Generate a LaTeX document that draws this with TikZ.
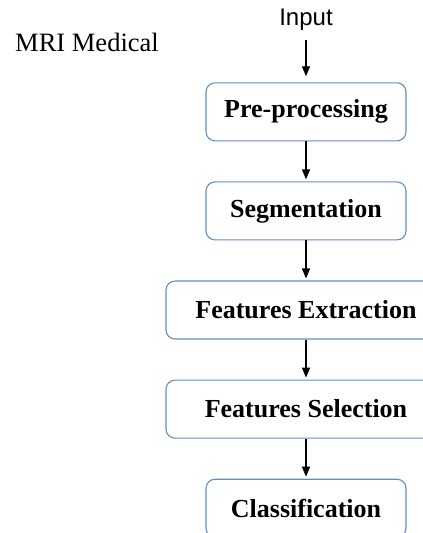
\documentclass[tikz,border=0pt]{standalone}
\usepackage{fontspec}
\setmainfont{Liberation Serif}
\newfontfamily\inputfont{Liberation Sans}
\usetikzlibrary{arrows.meta,positioning}
\definecolor{boxblue}{RGB}{100,140,190}
\newcommand{\FlowTip}{Triangle[length=10,width=8]}
\tikzset{stage/.style={draw=boxblue,line width=1.1pt,rounded corners=9pt,minimum width=200pt,minimum height=58pt,font=\fontsize{26}{30}\selectfont\bfseries,inner sep=0},
wide/.style={stage,minimum width=280pt},
flow/.style={line width=1.4pt,shorten >=2pt,-{\FlowTip}}}

\begin{document}
\begin{tikzpicture}[node distance=40pt]
\useasboundingbox(0,0)rectangle(423pt,-533pt);\clip(0,0)rectangle(423pt,-533pt);
\node[font=\fontsize{26.5}{30}\selectfont]at(87pt,-42pt)(mri){MRI Medical};
\node[font=\inputfont\fontsize{24}{28}\selectfont]at(306pt,-20pt)(input){Input};
\node[stage,below=48pt of input](pre){Pre-processing};
\node[stage,below=of pre](seg){Segmentation};
\node[wide,below=of seg](ext){Features Extraction};
\node[wide,below=of ext](sel){Features Selection};
\node[stage,below=of sel](cls){Classification};
\draw[flow,shorten <=6pt,shorten >=6pt](input)--(pre);\draw[flow](pre)--(seg);\draw[flow](seg)--(ext);\draw[flow](ext)--(sel);\draw[flow](sel)--(cls);
\end{tikzpicture}
\end{document}
